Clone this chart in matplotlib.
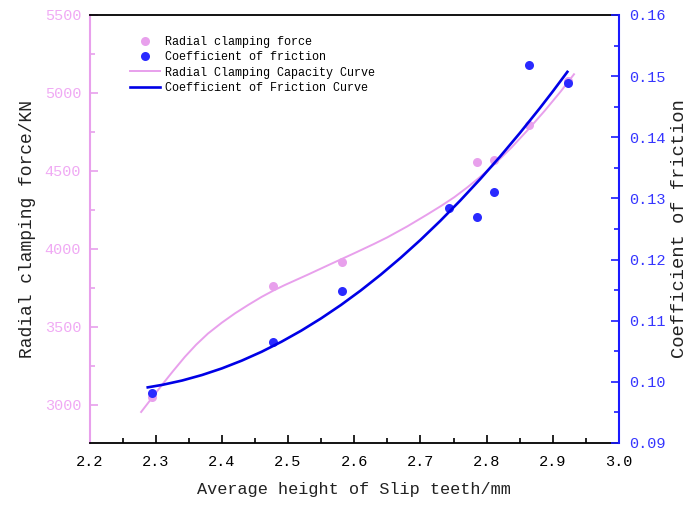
import matplotlib
matplotlib.use("Agg")
import matplotlib.pyplot as plt
from matplotlib.ticker import MultipleLocator

plt.rcParams['font.family'] = ['Liberation Mono', 'DejaVu Sans Mono']

# ---- data ----
height_pts = [2.295, 2.477, 2.581, 2.786, 2.811, 2.864, 2.923]
force_pts = [3048, 3760, 3917, 4558, 4569, 4797, 5075]

height_mu = [2.295, 2.477, 2.581, 2.743, 2.786, 2.811, 2.864, 2.923]
mu_pts = [0.0982, 0.1065, 0.1148, 0.1284, 0.1269, 0.1310, 0.1518, 0.1489]

force_curve_x = [2.278, 2.294, 2.309, 2.326, 2.344, 2.361, 2.379, 2.400, 2.420, 2.440,
                 2.460, 2.478, 2.495, 2.530, 2.564, 2.600, 2.630, 2.650, 2.680, 2.710,
                 2.731, 2.751, 2.771, 2.791, 2.811, 2.838, 2.864, 2.888, 2.912, 2.932]
force_curve_y = [2954, 3042, 3125, 3215, 3307, 3385, 3457, 3527, 3587, 3641,
                 3692, 3733, 3768, 3835, 3902, 3972, 4032, 4074, 4144, 4220,
                 4275, 4331, 4395, 4464, 4540, 4652, 4771, 4887, 5010, 5120]

mu_curve_x = [2.288, 2.31, 2.34, 2.37, 2.40, 2.43, 2.46, 2.49, 2.52, 2.55, 2.58, 2.61,
              2.64, 2.67, 2.70, 2.73, 2.76, 2.79, 2.82, 2.85, 2.88, 2.90, 2.922]
mu_curve_y = [0.09910, 0.09951, 0.10022, 0.10112, 0.10220, 0.10347, 0.10492, 0.10656,
              0.10838, 0.11039, 0.11258, 0.11496, 0.11753, 0.12028, 0.12321, 0.12633,
              0.12964, 0.13313, 0.13680, 0.14067, 0.14471, 0.14751, 0.15070]

x_label = "Average height of Slip teeth/mm"
left_label = "Radial clamping force/KN"
right_label = "Coefficient of friction"
legend_labels = ["Radial clamping force", "Coefficient of friction",
                 "Radial Clamping Capacity Curve", "Coefficient of Friction Curve"]

PINK = '#e8a0ec'
PINK_TXT = '#f0aaf4'
BLUE_PT = '#2a2aff'
BLUE_LN = '#0000e6'
BLUE_TXT = '#3535ff'

fig = plt.figure(figsize=(6.89, 5.07), dpi=100)
ax = fig.add_axes([89.5 / 689, 1 - 443 / 507, (619 - 89.5) / 689, 428 / 507])
ax2 = ax.twinx()

p1, = ax.plot(height_pts, force_pts, 'o', color=PINK, ms=6.5, mec='none', zorder=2)
l1, = ax.plot(force_curve_x, force_curve_y, '-', color=PINK, lw=1.4, zorder=3)
p2, = ax2.plot(height_mu, mu_pts, 'o', color=BLUE_PT, ms=6.5, mec='none', zorder=2)
l2, = ax2.plot(mu_curve_x, mu_curve_y, '-', color=BLUE_LN, lw=1.9, zorder=3)

ax.set_xlim(2.2, 3.0)
ax.set_ylim(2755, 5500)
ax2.set_ylim(0.09, 0.16)

ax.xaxis.set_major_locator(MultipleLocator(0.1))
ax.xaxis.set_minor_locator(MultipleLocator(0.05))
ax.yaxis.set_major_locator(MultipleLocator(500))
ax.yaxis.set_minor_locator(MultipleLocator(250))
ax2.yaxis.set_major_locator(MultipleLocator(0.01))
ax2.yaxis.set_minor_locator(MultipleLocator(0.005))
ax.xaxis.set_major_formatter(plt.FuncFormatter(lambda v, p: f"{v:.1f}"))
ax2.yaxis.set_major_formatter(plt.FuncFormatter(lambda v, p: f"{v:.2f}"))

# spines
for s in ['top', 'bottom']:
    ax.spines[s].set_color('black')
    ax.spines[s].set_linewidth(1.3)
ax.spines['left'].set_color(PINK)
ax.spines['left'].set_linewidth(1.5)
ax.spines['right'].set_visible(False)
ax2.spines['right'].set_color('#1a1aff')
ax2.spines['right'].set_linewidth(1.5)
ax2.spines['left'].set_visible(False)
ax2.spines['top'].set_visible(False)
ax2.spines['bottom'].set_visible(False)

ax.tick_params(axis='x', which='both', direction='in', colors='black', top=False,
               labelsize=11, pad=9, width=1.2)
ax.tick_params(axis='x', which='major', length=6)
ax.tick_params(axis='x', which='minor', length=3.5)
ax.tick_params(axis='y', which='both', direction='in', color=PINK, labelcolor=PINK_TXT,
               labelsize=11, pad=6, width=1.2)
ax.tick_params(axis='y', which='major', length=6)
ax.tick_params(axis='y', which='minor', length=3.5)
ax2.tick_params(axis='y', which='both', direction='in', color='#1a1aff', labelcolor=BLUE_TXT,
                labelsize=11, pad=7, width=1.2)
ax2.tick_params(axis='y', which='major', length=6)
ax2.tick_params(axis='y', which='minor', length=3.5)

ax.set_xlabel(x_label, fontsize=12.2, color='#222222', labelpad=9)
ax.set_ylabel(left_label, fontsize=13, color='#222222', labelpad=6)
ax2.set_ylabel(right_label, fontsize=13.5, color='#222222', labelpad=4)

leg = ax2.legend([p1, p2, l1, l2], legend_labels, loc='upper left',
                 bbox_to_anchor=((130 - 89.5) / 529.5, (443 - 36) / 428),
                 frameon=False, fontsize=8.5, borderpad=0, borderaxespad=0,
                 labelspacing=0.28, handlelength=2.5, handletextpad=0.5, numpoints=1)

fig.savefig('out.png', dpi=100)
